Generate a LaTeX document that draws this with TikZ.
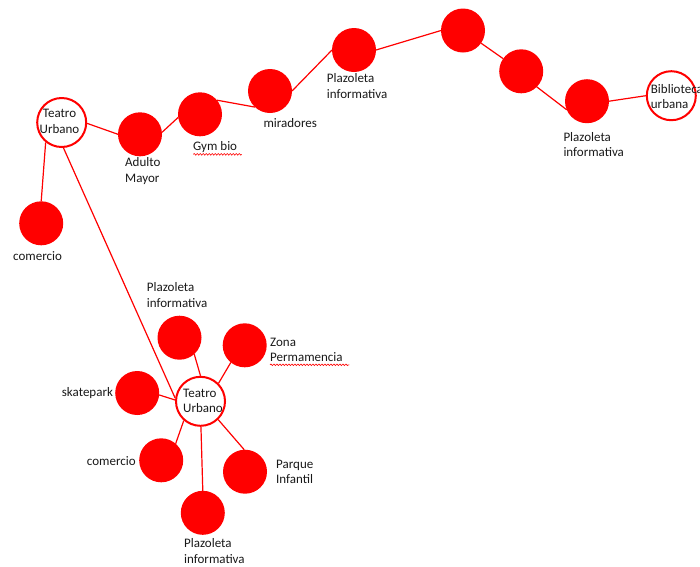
\documentclass[tikz,border=0pt]{standalone}
\usepackage{fontspec}
\setmainfont{Carlito}
\usetikzlibrary{decorations.pathmorphing}
\tikzset{
  dot/.style={circle, fill=red, minimum size=44pt, inner sep=0pt, outer sep=0pt},
  hub/.style={circle, draw=red, line width=2pt, fill=white, minimum size=49pt, inner sep=0pt},
  lbl/.style={anchor=base west, inner sep=0pt, align=left, text=black!90, font=\fontsize{13}{15.6}\selectfont},
  clbl/.style={anchor=base, inner sep=0pt, align=center, text=black!90, font=\fontsize{13}{15.6}\selectfont},
  link/.style={red, line width=1.2pt},
  squiggle/.style={red, line width=0.6pt, decorate, decoration={snake, amplitude=0.8pt, segment length=3pt}}
}
\begin{document}
\begin{tikzpicture}[x=1pt, y=-1pt]
\useasboundingbox (0,0) rectangle (700,566);
% top chain
\node[hub] (tu1) at (61.7,122.5) {};
\node[dot] (adu) at (140,134.3) {};
\node[dot] (gym) at (200,114.3) {};
\node[dot] (com1) at (41.2,223.3) {};
\node[dot] (mir) at (270,91) {};
\node[dot] (plz1) at (354,50) {};
\node[dot] (n7) at (463,30.5) {};
\node[dot] (n8) at (521.2,71.3) {};
\node[dot] (plz2) at (587,101.2) {};
\node[hub] (bib) at (671.3,95.7) {};
% bottom cluster
\node[hub] (tu2) at (200.5,401.3) {};
\node[dot] (plzA) at (179.5,337.7) {};
\node[dot] (zona) at (244.7,345.3) {};
\node[dot] (skate) at (137.2,393) {};
\node[dot] (comB) at (161.2,460.3) {};
\node[dot] (pq) at (245,471.7) {};
\node[dot] (plzB) at (202.8,512.8) {};
% connectors
\draw[link] (tu1.-2) -- (adu.west);
\draw[link] (adu.5) -- (gym.188);
\draw[link] (gym.40) -- (mir.227);
\draw[link] (mir.east) -- (plz1.west);
\draw[link] (plz1.east) -- (n7.west);
\draw[link] (n7) -- (n8);
\draw[link] (n8.-45) -- (plz2.203);
\draw[link] (plz2.east) -- (bib.west);
\draw[link] (tu1.-129) -- (com1.north);
\draw[link] (tu1.-86) -- (tu2.173);
\draw[link] (plzA.-48) -- (tu2.north);
\draw[link] (tu2.45) -- (zona.-129);
\draw[link] (tu2.177) -- (skate.-5);
\draw[link] (tu2.-131) -- (comB.49);
\draw[link] (tu2.-46) -- (pq.92);
\draw[link] (tu2.-89) -- (plzB.north);
% labels (two-line labels are placed by the baseline of their last line)
\node[clbl] (tu1t) at (59.5,133.3) {Teatro\\Urbano};
\node[lbl] (adut) at (125,182.3) {Adulto\\Mayor};
\node[lbl] (gymt) at (193,150.7) {Gym bio};
\node[lbl] (com1t) at (13,260) {comercio};
\node[lbl] (mirt) at (263.3,127.3) {miradores};
\node[lbl] (plz1t) at (326.7,98.3) {Plazoleta\\informativa};
\node[lbl] (plz2t) at (563.3,156.6) {Plazoleta\\informativa};
\node[lbl] (bibt) at (650.7,108.9) {Biblioteca\\urbana};
\node[lbl] (tu2t) at (183,412.9) {Teatro\\Urbano};
\node[lbl] (plzAt) at (146.7,307.3) {Plazoleta\\informativa};
\node[lbl] (zonat) at (270,361.6) {Zona\\Permamencia};
\node[lbl] (skatet) at (61.7,396) {skatepark};
\node[lbl] (comBt) at (86.7,465) {comercio};
\node[lbl] (pqt) at (276,483.9) {Parque\\Infantil};
\node[lbl] (plzBt) at (184,563.3) {Plazoleta\\informativa};
% spell-check squiggles
\draw[squiggle] (193.3,154.3) -- (241.7,154.3);
\draw[squiggle] (270,364.8) -- (349.3,364.8);
\end{tikzpicture}
\end{document}
